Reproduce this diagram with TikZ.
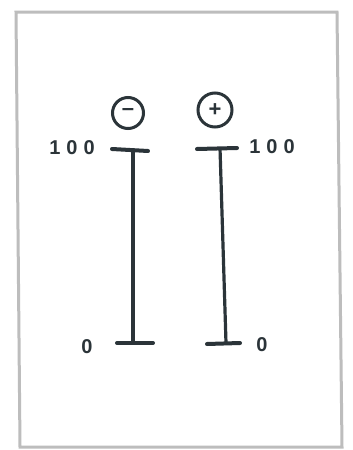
\documentclass[tikz,border=0pt]{standalone}
\usepackage{fontspec}
\setmainfont{Liberation Sans}
\definecolor{ink}{HTML}{2B3439}
\definecolor{frame}{HTML}{BDBDBD}
\begin{document}
\begin{tikzpicture}[x=1pt,y=-1pt,
  bar/.style={draw=ink,line width=3.2pt},
  tee/.style={draw=ink,line width=4pt,line cap=round},
  sign/.style={circle,draw=ink,line width=3pt,minimum size=31pt,inner sep=0pt,text=ink,font=\bfseries\fontsize{22}{22}\selectfont},
  num/.style={text=ink,inner sep=0pt,font=\bfseries\fontsize{20}{20}\selectfont}]
\useasboundingbox (0,0) rectangle (353,450);
\fill[white] (0,0) rectangle (353,450);
\draw[frame,line width=3pt] (16,12) -- (337,12) -- (342,447) -- (20,447) -- cycle;
% left bar
\coordinate (lt) at (133,150);
\coordinate (lb) at (133,343);
\coordinate (ltl) at (112,149);
\coordinate (ltr) at (148,151);
\coordinate (lbl) at (117,343);
\coordinate (lbr) at (153,343);
\draw[bar] (lt) -- (lb);
\draw[tee] (ltl) -- (ltr);
\draw[tee] (lbl) -- (lbr);
% right bar
\coordinate (rt) at (220,148);
\coordinate (rb) at (226,343);
\coordinate (rtl) at (197,149);
\coordinate (rtr) at (237,148);
\coordinate (rbl) at (207,344);
\coordinate (rbr) at (240,343);
\draw[bar] (rt) -- (rb);
\draw[tee] (rtl) -- (rtr);
\draw[tee] (rbl) -- (rbr);
% signs
\node[sign] (minus) at (128,113) {\raisebox{1pt}{--}};
\node[sign,minimum size=34pt] (plus) at (215,110) {+};
% labels
\node[num] (l100) at (72,148) {1\hspace{6pt}0\hspace{6pt}0};
\node[num] (l0) at (87,347) {0};
\node[num] (r100) at (272,147) {1\hspace{6pt}0\hspace{6pt}0};
\node[num] (r0) at (262,345) {0};
\end{tikzpicture}
\end{document}
